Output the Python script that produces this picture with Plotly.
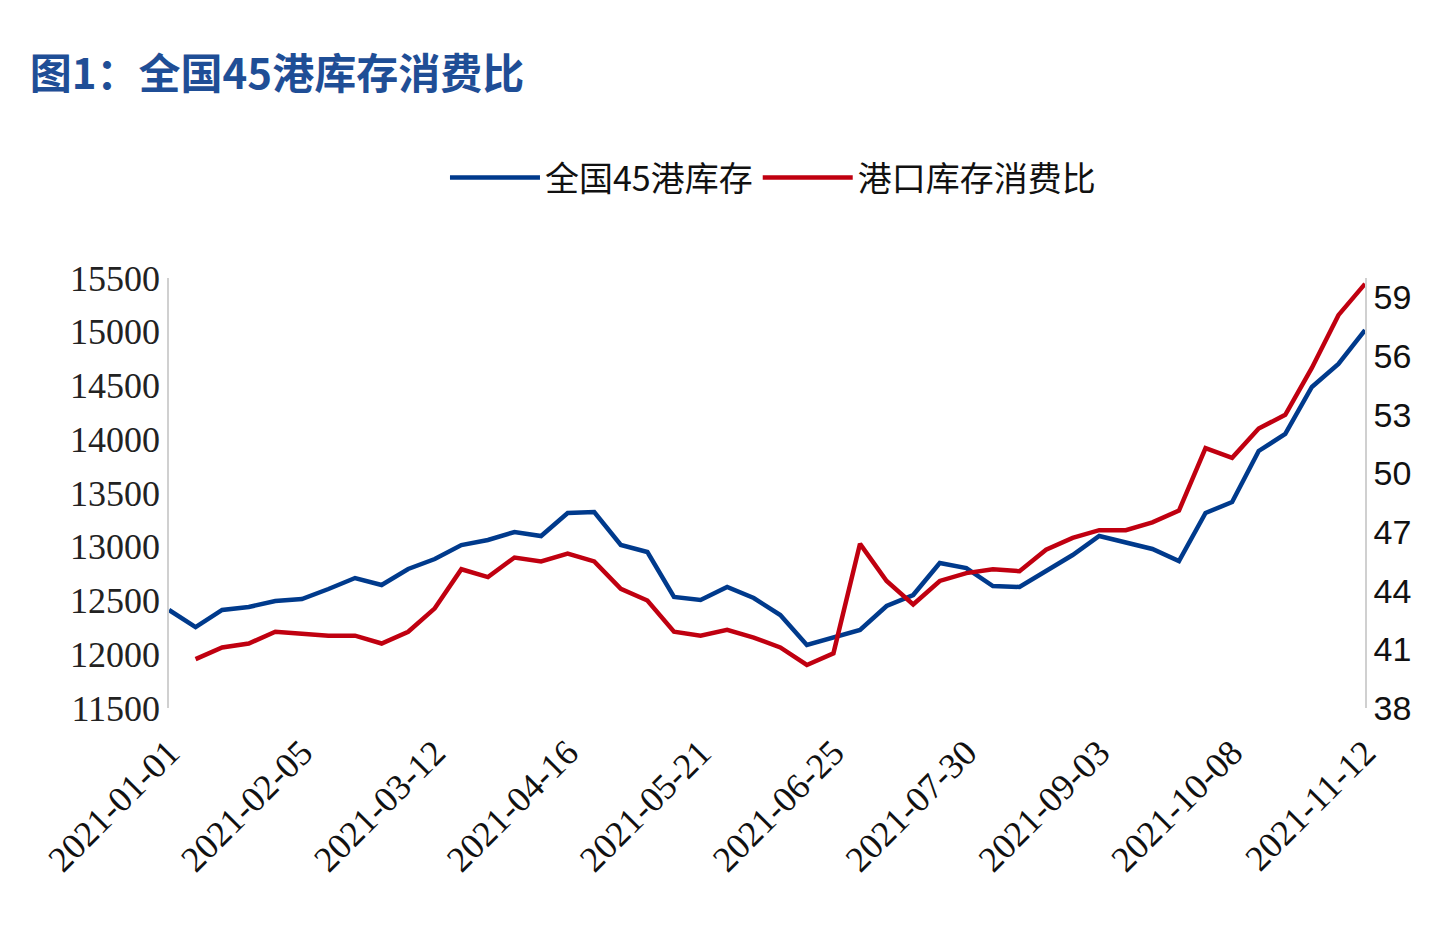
import plotly.graph_objects as go
import pandas as pd

dates = [d.strftime("%Y-%m-%d") for d in pd.date_range("2021-01-01", periods=46, freq="7D")]
stock = [12412,12253,12412,12440,12495,12514,12607,12709,12644,12793,12886,13016,13063,13137,13100,
         13314,13323,13016,12951,12533,12505,12626,12523,12365,12086,12151,12226,12449,12551,12849,
         12802,12635,12626,12774,12923,13100,13035,12979,12867,13314,13416,13891,14049,14486,14700,15016]
ratio = [None,40.5,41.1,41.3,41.9,41.8,41.7,41.7,41.3,41.9,43.1,45.1,44.7,45.7,45.5,45.9,45.5,44.1,
         43.5,41.9,41.7,42.0,41.6,41.1,40.2,40.8,46.4,44.5,43.3,44.5,44.9,45.1,45.0,46.1,46.7,47.1,
         47.1,47.5,48.1,51.3,50.8,52.3,53.0,55.4,58.1,59.7]
ticks = dates[::5]

fig = go.Figure()
fig.add_trace(go.Scatter(x=dates, y=stock, name="全国45港库存", mode="lines",
                         line=dict(color="#003A8C", width=4.5)))
fig.add_trace(go.Scatter(x=dates, y=ratio, name="港口库存消费比", mode="lines", yaxis="y2",
                         line=dict(color="#C00010", width=4.5)))
fig.update_layout(
    width=1455, height=935, plot_bgcolor="white", paper_bgcolor="white",
    margin=dict(l=161, r=98, t=270, b=235),
    title=dict(text="<b>图1：全国45港库存消费比</b>", x=0.015, y=0.945, xanchor="left",
               font=dict(family="Noto Sans CJK SC", size=42, color="#1F4E96")),
    legend=dict(orientation="h", x=0.505, xanchor="center", y=1.233, yanchor="middle",
                font=dict(family="Noto Sans CJK SC", size=34, color="#111"), itemwidth=90,
                tracegroupgap=0),
    xaxis=dict(type="category", tickvals=ticks, ticktext=ticks, tickangle=-45, automargin=False,
               tickfont=dict(family="Liberation Serif", size=36, color="#111"),
               ticks="outside", ticklen=8, tickcolor="white",
               showgrid=False, showline=False, range=[0, 45]),
    yaxis=dict(range=[11500, 15500], dtick=500, showgrid=False, showline=True, automargin=False,
               tickformat="d", linecolor="#d0d0d0", linewidth=1.5,
               tickfont=dict(family="Liberation Serif", size=36, color="#222")),
    yaxis2=dict(range=[38, 60], tickvals=[38,41,44,47,50,53,56,59], overlaying="y", side="right",
                automargin=False, showgrid=False, showline=True, linecolor="#d0d0d0", linewidth=1.5,
                tickfont=dict(family="Liberation Sans", size=34, color="#111")),
)
fig.write_html("out.html")
